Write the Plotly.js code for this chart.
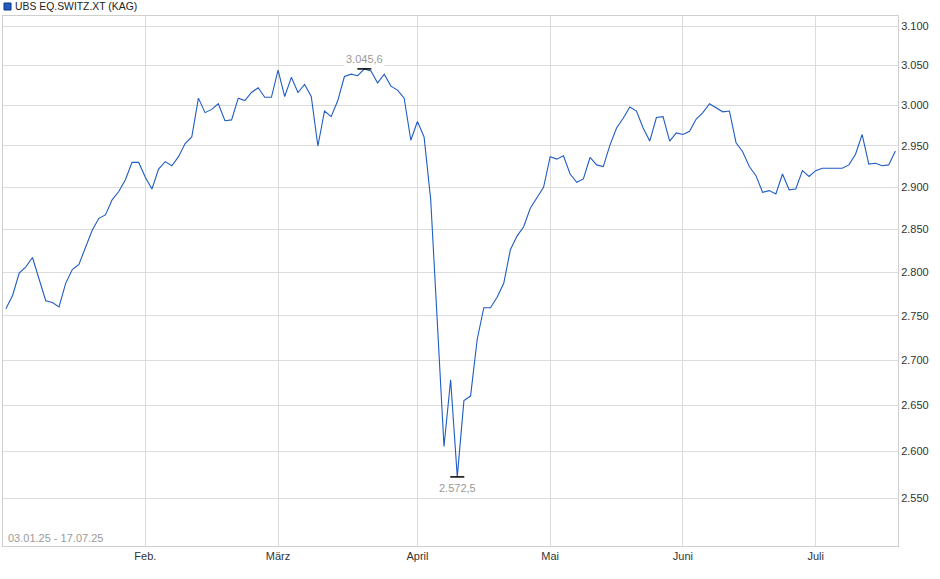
<!DOCTYPE html>
<html>
<head>
<meta charset="utf-8">
<script src="https://cdn.plot.ly/plotly-3.0.1.min.js"></script>
<style>
  html, body { margin: 0; padding: 0; background: #fff; }
  #chart { width: 940px; height: 579px; }
</style>
</head>
<body>
<div id="chart"></div>
<script>
// trading days (Swiss calendar, Karfreitag/Ostern/1. Mai/Auffahrt/Pfingsten closed)
var tradeDays = [
  '2025-01-03','2025-01-06','2025-01-07','2025-01-08','2025-01-09','2025-01-10','2025-01-13','2025-01-14','2025-01-15','2025-01-16',
  '2025-01-17','2025-01-20','2025-01-21','2025-01-22','2025-01-23','2025-01-24','2025-01-27','2025-01-28','2025-01-29','2025-01-30',
  '2025-01-31','2025-02-03','2025-02-04','2025-02-05','2025-02-06','2025-02-07','2025-02-10','2025-02-11','2025-02-12','2025-02-13',
  '2025-02-14','2025-02-17','2025-02-18','2025-02-19','2025-02-20','2025-02-21','2025-02-24','2025-02-25','2025-02-26','2025-02-27',
  '2025-02-28','2025-03-03','2025-03-04','2025-03-05','2025-03-06','2025-03-07','2025-03-10','2025-03-11','2025-03-12','2025-03-13',
  '2025-03-14','2025-03-17','2025-03-18','2025-03-19','2025-03-20','2025-03-21','2025-03-24','2025-03-25','2025-03-26','2025-03-27',
  '2025-03-28','2025-03-31','2025-04-01','2025-04-02','2025-04-03','2025-04-04','2025-04-07','2025-04-08','2025-04-09','2025-04-10',
  '2025-04-11','2025-04-14','2025-04-15','2025-04-16','2025-04-17','2025-04-22','2025-04-23','2025-04-24','2025-04-25','2025-04-28',
  '2025-04-29','2025-04-30','2025-05-02','2025-05-05','2025-05-06','2025-05-07','2025-05-08','2025-05-09','2025-05-12','2025-05-13',
  '2025-05-14','2025-05-15','2025-05-16','2025-05-19','2025-05-20','2025-05-21','2025-05-22','2025-05-23','2025-05-26','2025-05-27',
  '2025-05-28','2025-05-30','2025-06-02','2025-06-03','2025-06-04','2025-06-05','2025-06-06','2025-06-10','2025-06-11','2025-06-12',
  '2025-06-13','2025-06-16','2025-06-17','2025-06-18','2025-06-19','2025-06-20','2025-06-23','2025-06-24','2025-06-25','2025-06-26',
  '2025-06-27','2025-06-30','2025-07-01','2025-07-02','2025-07-03','2025-07-04','2025-07-07','2025-07-08','2025-07-09','2025-07-10',
  '2025-07-11','2025-07-14','2025-07-15','2025-07-16','2025-07-17'
];

var navValues = [
  2758, 2773, 2799, 2806, 2817, 2791, 2767, 2765, 2760, 2787,
  2803, 2809, 2830, 2849, 2863, 2867, 2885, 2895, 2909, 2930,
  2930, 2912, 2898, 2922, 2931, 2926, 2937, 2953, 2961, 3009,
  2991, 2995, 3002, 2981, 2982, 3009, 3006, 3016, 3022, 3010,
  3010, 3044, 3011, 3035, 3016, 3026, 3011, 2950, 2993, 2986,
  3006, 3036, 3039, 3037, 3045.6, 3043, 3028, 3039, 3024, 3019,
  3009, 2957, 2980, 2961, 2885, 2736, 2605, 2678, 2572.5, 2655,
  2660, 2723, 2759, 2759, 2771, 2787, 2826, 2842, 2853, 2875,
  2887, 2900, 2937, 2934, 2938, 2916, 2906, 2910, 2936, 2927,
  2925, 2951, 2972, 2984, 2998, 2993, 2972, 2956, 2985, 2986,
  2956, 2966, 2964, 2968, 2983, 2991, 3002, 2997, 2992, 2993,
  2954, 2943, 2925, 2914, 2894, 2896, 2892, 2916, 2897, 2898,
  2920, 2913, 2920, 2923, 2923, 2923, 2923, 2927, 2940, 2964,
  2928, 2929, 2926, 2927, 2944
];

var monthTicks  = ['2025-02-03', '2025-03-03', '2025-04-01', '2025-05-02', '2025-06-02', '2025-07-01'];
var monthLabels = ['Feb.', 'März', 'April', 'Mai', 'Juni', 'Juli'];
var priceTicks  = [2550, 2600, 2650, 2700, 2750, 2800, 2850, 2900, 2950, 3000, 3050, 3100];

var seriesName = 'UBS EQ.SWITZ.XT (KAG)';
var periodText = '03.01.25 - 17.07.25';

// german number: 3.045,6
function deNum(v) {
  var p = v.toFixed(1).split('.');
  return p[0].replace(/\B(?=(\d{3})+(?!\d))/g, '.') + ',' + p[1];
}

var iMax = navValues.indexOf(Math.max.apply(null, navValues));
var iMin = navValues.indexOf(Math.min.apply(null, navValues));

var lineTrace = {
  type: 'scatter',
  mode: 'lines',
  x: tradeDays,
  y: navValues,
  name: seriesName,
  line: { color: '#1f5cc4', width: 1.1 },
  hoverinfo: 'skip'
};

var extremaTrace = {
  type: 'scatter',
  mode: 'markers',
  x: [tradeDays[iMax], tradeDays[iMin]],
  y: [navValues[iMax], navValues[iMin]],
  marker: { symbol: 'line-ew', size: 10, line: { color: '#000', width: 1.5 } },
  hoverinfo: 'skip'
};

var labelFont = { size: 11, color: '#9a9a9a' };

var layout = {
  width: 940,
  height: 579,
  margin: { l: 3, r: 42, t: 16, b: 33, pad: 0 },
  paper_bgcolor: '#fff',
  plot_bgcolor: '#fff',
  showlegend: false,
  separators: ',.',
  font: { family: 'Liberation Sans, Arial, sans-serif', size: 11, color: '#333' },
  xaxis: {
    type: 'category',
    range: [-0.44, 134.4],
    tickmode: 'array',
    tickvals: monthTicks,
    ticktext: monthLabels,
    ticks: '',
    showgrid: true,
    gridcolor: '#dcdcdc',
    showline: true,
    linecolor: '#cfcfcf',
    mirror: true,
    zeroline: false,
    fixedrange: true
  },
  yaxis: {
    type: 'log',
    side: 'right',
    range: [Math.log10(2500), Math.log10(3113)],
    tickmode: 'array',
    tickvals: priceTicks,
    tickformat: ',d',
    separatethousands: true,
    ticks: '',
    showgrid: true,
    gridcolor: '#dcdcdc',
    showline: true,
    linecolor: '#cfcfcf',
    mirror: true,
    zeroline: false,
    fixedrange: true
  },
  shapes: [{
    type: 'rect',
    xref: 'paper', yref: 'paper',
    xsizemode: 'pixel', ysizemode: 'pixel',
    xanchor: 0, yanchor: 1,
    x0: 1, x1: 8, y0: 6, y1: 13,
    fillcolor: '#1f5cc4',
    line: { color: '#0b3380', width: 1 }
  }],
  annotations: [
    {
      xref: 'paper', yref: 'paper', x: 0, y: 1,
      xanchor: 'left', yanchor: 'bottom', xshift: 10, yshift: 2,
      text: seriesName, showarrow: false,
      font: { size: 10.4, color: '#222' }
    },
    {
      xref: 'paper', yref: 'paper', x: 0, y: 0,
      xanchor: 'left', yanchor: 'bottom', xshift: 3, yshift: 0,
      text: periodText, showarrow: false,
      font: { size: 11, color: '#9a9a9a' }
    },
    {
      x: tradeDays[iMax], y: Math.log10(navValues[iMax]),
      xanchor: 'center', yanchor: 'bottom', yshift: 2,
      text: deNum(navValues[iMax]), showarrow: false,
      bgcolor: '#fff', font: labelFont
    },
    {
      x: tradeDays[iMin], y: Math.log10(navValues[iMin]),
      xanchor: 'center', yanchor: 'top', yshift: -3,
      text: deNum(navValues[iMin]), showarrow: false,
      bgcolor: '#fff', font: labelFont
    }
  ]
};

Plotly.newPlot('chart', [lineTrace, extremaTrace], layout, { displayModeBar: false, staticPlot: true });
</script>
</body>
</html>
